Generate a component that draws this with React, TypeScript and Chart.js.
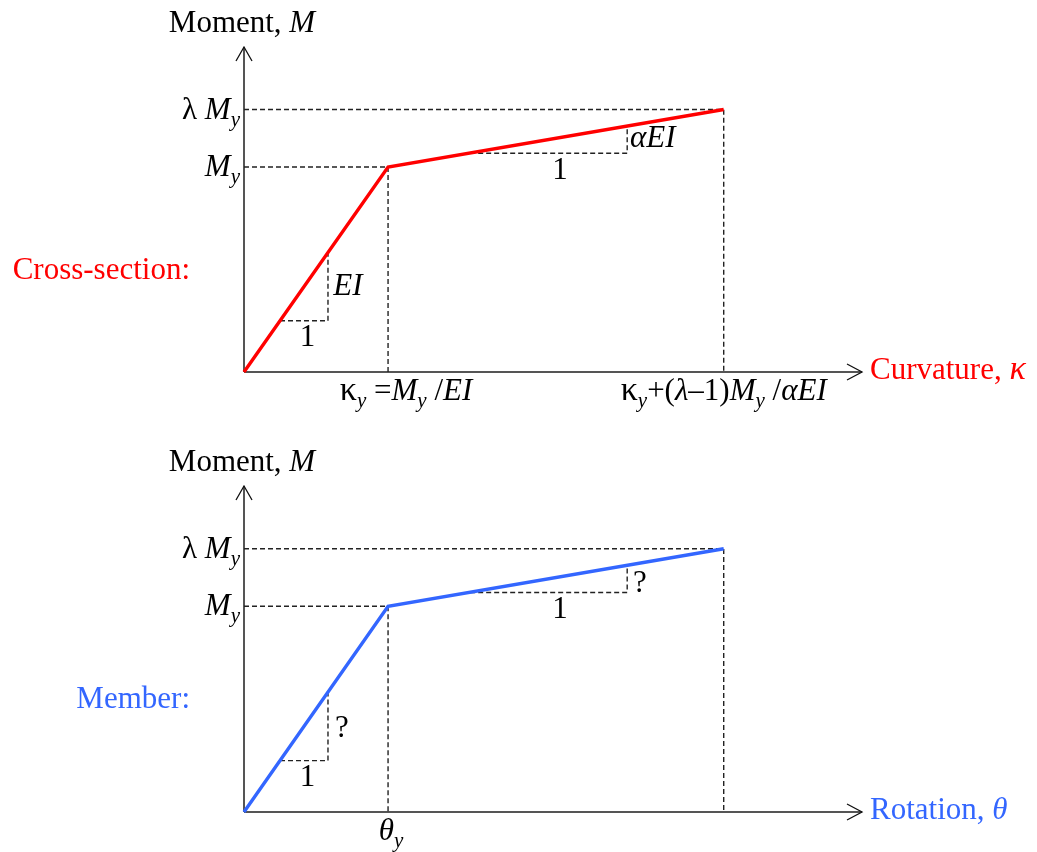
import React, { useEffect, useRef } from "react";
import { Chart, registerables } from "chart.js";

Chart.register(...registerables);

// Elastic–hardening moment diagrams: values in units of yield quantities.
const sectionCurvature = [0, 1, 3.33];
const sectionMoment = [0, 1, 1.28];
const memberRotation = [0, 1, 3.33];
const memberMoment = [0, 1, 1.28];

// Slope triangles (elastic branch and hardening branch)
const elasticTriX = [0.25, 0.583, 0.583];
const elasticTriY = [0.25, 0.25, 0.583];
const hardeningTriX = [1.57, 2.66, 2.66];
const hardeningTriY = [1.067, 1.067, 1.198];

type Run = { t: string; i?: boolean; s?: boolean; c?: string; big?: boolean };

const SERIF = '"Liberation Serif", "Times New Roman", serif';
const momentTitle: Run[] = [{ t: "Moment, " }, { t: "M", i: true }];
const lambdaMyLabel: Run[] = [{ t: "λ " }, { t: "M", i: true }, { t: "y", i: true, s: true }];
const myLabel: Run[] = [{ t: "M", i: true }, { t: "y", i: true, s: true }];

const sectionXTicks: Run[][] = [
  [
    { t: "κ", big: true }, { t: "y", i: true, s: true }, { t: " =" },
    { t: "M", i: true }, { t: "y", i: true, s: true }, { t: " /" }, { t: "EI", i: true },
  ],
  [
    { t: "κ", big: true }, { t: "y", i: true, s: true }, { t: "+(" }, { t: "λ", i: true }, { t: "–1)" },
    { t: "M", i: true }, { t: "y", i: true, s: true }, { t: " /" }, { t: "αEI", i: true },
  ],
];
const memberXTicks: Run[][] = [[{ t: "θ", i: true }, { t: "y", i: true, s: true }]];

type Note = { runs: Run[]; x: number; y: number; align: "left" | "center" | "right" };

type Panel = {
  color: string;
  xs: number[];
  ys: number[];
  xTitle: Run[];
  side: string;
  sideY: number;
  xTicks: Run[][];
  xTickShift: number[];
  notes: Note[];
  padTop: number;
  padBottom: number;
};

const panels: Panel[] = [
  {
    color: "#ff0000",
    xs: sectionCurvature,
    ys: sectionMoment,
    xTitle: [{ t: "Curvature, " }, { t: "κ", i: true, big: true }],
    side: "Cross-section:",
    sideY: 0.454,
    xTicks: sectionXTicks,
    xTickShift: [18, 0],
    notes: [
      { runs: [{ t: "EI", i: true }], x: 0.62, y: 0.376, align: "left" },
      { runs: [{ t: "1" }], x: 0.44, y: 0.127, align: "center" },
      { runs: [{ t: "αEI", i: true }], x: 2.68, y: 1.098, align: "left" },
      { runs: [{ t: "1" }], x: 2.194, y: 0.941, align: "center" },
    ],
    padTop: 47,
    padBottom: 54,
  },
  {
    color: "#3366ff",
    xs: memberRotation,
    ys: memberMoment,
    xTitle: [{ t: "Rotation, " }, { t: "θ", i: true }],
    side: "Member:",
    sideY: 0.505,
    xTicks: memberXTicks,
    xTickShift: [3],
    notes: [
      { runs: [{ t: "?" }], x: 0.632, y: 0.364, align: "left" },
      { runs: [{ t: "1" }], x: 0.44, y: 0.126, align: "center" },
      { runs: [{ t: "?" }], x: 2.70, y: 1.07, align: "left" },
      { runs: [{ t: "1" }], x: 2.194, y: 0.942, align: "center" },
    ],
    padTop: 60,
    padBottom: 40,
  },
];

function runFont(r: Run) {
  const size = r.s ? 21 : r.big ? 34 : 31;
  return `${r.i ? "italic " : ""}${size}px ${SERIF}`;
}

function drawRuns(
  ctx: CanvasRenderingContext2D,
  runs: Run[],
  x: number,
  y: number,
  align: "left" | "center" | "right",
  color: string
) {
  let w = 0;
  for (const r of runs) {
    ctx.font = runFont(r);
    w += ctx.measureText(r.t).width;
  }
  let cx = align === "left" ? x : align === "right" ? x - w : x - w / 2;
  ctx.textAlign = "left";
  ctx.textBaseline = "alphabetic";
  for (const r of runs) {
    ctx.font = runFont(r);
    ctx.fillStyle = r.c || color;
    ctx.fillText(r.t, cx, y + (r.s ? 7 : 0));
    cx += ctx.measureText(r.t).width;
  }
}

const GUIDE = { borderColor: "#222222", borderWidth: 1.4, borderDash: [5, 3] };

function PanelChart({ panel, top }: { panel: Panel; top: number }) {
  const ref = useRef<HTMLCanvasElement | null>(null);

  useEffect(() => {
    if (!ref.current) return;
    const { xs, ys } = panel;
    const pt = (x: number[], y: number[]) => x.map((v, k) => ({ x: v, y: y[k] }));

    const decor = {
      id: "decor",
      beforeDatasetsDraw(chart: any) {
        const { ctx, chartArea, scales } = chart;
        const ox = scales.x.getPixelForValue(0);
        const oy = scales.y.getPixelForValue(0);
        ctx.save();
        ctx.strokeStyle = "#555555";
        ctx.lineWidth = 2;
        ctx.beginPath();
        ctx.moveTo(ox, oy);
        ctx.lineTo(ox, chartArea.top);
        ctx.moveTo(ox, oy);
        ctx.lineTo(chartArea.right, oy);
        ctx.stroke();
        ctx.strokeStyle = "#111111";
        ctx.lineWidth = 1.3;
        ctx.beginPath();
        ctx.moveTo(ox - 8, chartArea.top + 14);
        ctx.lineTo(ox, chartArea.top);
        ctx.lineTo(ox + 8, chartArea.top + 14);
        ctx.moveTo(chartArea.right - 15, oy - 8);
        ctx.lineTo(chartArea.right, oy);
        ctx.lineTo(chartArea.right - 15, oy + 8);
        ctx.stroke();
        ctx.restore();
      },
      afterDraw(chart: any) {
        const { ctx, chartArea, scales } = chart;
        const ox = scales.x.getPixelForValue(0);
        const oy = scales.y.getPixelForValue(0);
        ctx.save();
        drawRuns(ctx, momentTitle, ox - 2, chartArea.top - 15, "center", "#000");
        drawRuns(ctx, lambdaMyLabel, ox - 4, scales.y.getPixelForValue(ys[2]) + 9, "right", "#000");
        drawRuns(ctx, myLabel, ox - 4, scales.y.getPixelForValue(ys[1]) + 9, "right", "#000");
        drawRuns(ctx, panel.xTitle, chartArea.right + 8, oy + 7, "left", panel.color);
        drawRuns(
          ctx,
          [{ t: panel.side }],
          ox - 54,
          scales.y.getPixelForValue(panel.sideY),
          "right",
          panel.color
        );
        panel.xTicks.forEach((runs, k) => {
          const px = scales.x.getPixelForValue(xs[k + 1]) + panel.xTickShift[k];
          drawRuns(ctx, runs, px, oy + 28, "center", "#000");
        });
        panel.notes.forEach((n) => {
          drawRuns(
            ctx,
            n.runs,
            scales.x.getPixelForValue(n.x),
            scales.y.getPixelForValue(n.y),
            n.align,
            "#000"
          );
        });
        ctx.restore();
      },
    };

    const chart = new Chart(ref.current, {
      type: "scatter",
      data: {
        datasets: [
          {
            data: pt(xs, ys),
            showLine: true,
            borderColor: panel.color,
            borderWidth: 3.4,
            pointRadius: 0,
            clip: false,
            order: 0,
          } as any,
          // projections of the yield point and the end point onto the axes
          { data: [{ x: 0, y: ys[2] }, { x: xs[2], y: ys[2] }, { x: xs[2], y: 0 }], showLine: true, pointRadius: 0, order: 1, clip: false, ...GUIDE } as any,
          { data: [{ x: 0, y: ys[1] }, { x: xs[1], y: ys[1] }, { x: xs[1], y: 0 }], showLine: true, pointRadius: 0, order: 1, clip: false, ...GUIDE } as any,
          { data: pt(elasticTriX, elasticTriY), showLine: true, pointRadius: 0, order: 1, clip: false, ...GUIDE } as any,
          { data: pt(hardeningTriX, hardeningTriY), showLine: true, pointRadius: 0, order: 1, clip: false, ...GUIDE } as any,
        ],
      },
      options: {
        animation: false,
        responsive: false,
        maintainAspectRatio: false,
        devicePixelRatio: 1,
        layout: { padding: { left: 244, right: 175, top: panel.padTop, bottom: panel.padBottom } },
        scales: {
          x: { type: "linear", min: 0, max: 4.29, display: false },
          y: { type: "linear", min: 0, max: 1.585, display: false },
        },
        plugins: { legend: { display: false }, tooltip: { enabled: false } },
        events: [],
      },
      plugins: [decor],
    });
    return () => chart.destroy();
  }, [panel]);

  return (
    <canvas
      ref={ref}
      width={1037}
      height={426}
      style={{ position: "absolute", left: 0, top, width: 1037, height: 426 }}
    />
  );
}

export default function App() {
  return (
    <div
      style={{
        position: "absolute",
        left: 0,
        top: 0,
        width: 1037,
        height: 852,
        background: "#ffffff",
      }}
    >
      <PanelChart panel={panels[0]} top={0} />
      <PanelChart panel={panels[1]} top={426} />
    </div>
  );
}
